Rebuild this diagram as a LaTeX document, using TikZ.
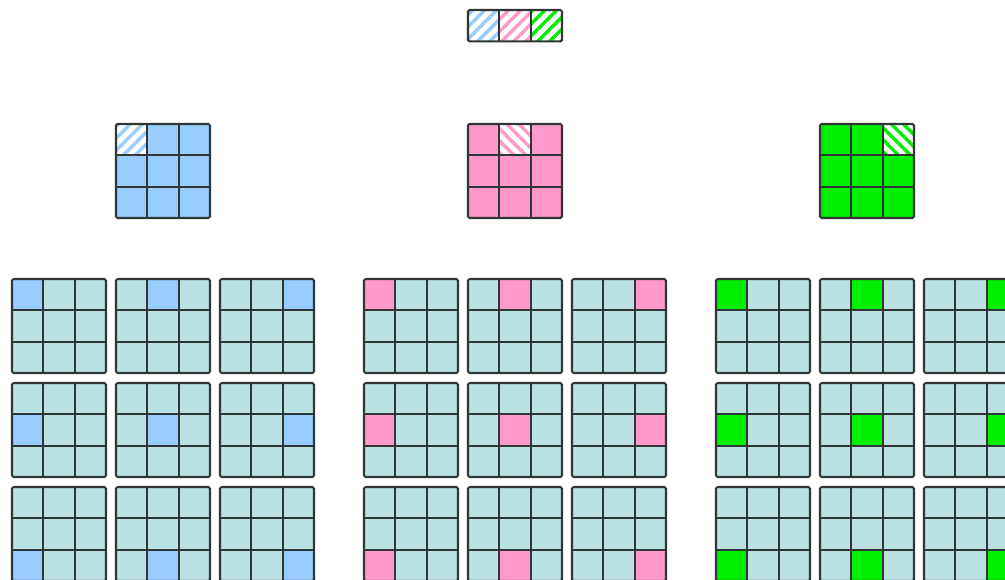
\documentclass[tikz,border=0pt]{standalone}
\usetikzlibrary{patterns.meta}
\definecolor{cblue}{HTML}{99CCFF}
\definecolor{cpink}{HTML}{FF99CC}
\definecolor{cgreen}{HTML}{00EE00}
\definecolor{cbg}{HTML}{BBE1E3}
\definecolor{cline}{HTML}{303535}
\tikzset{gl/.style={draw=cline,line width=2.1pt}}
\newcommand\cellgrid[4]{%
  \begin{scope}[shift={(#1,#2)}]
    \fill[#3] (0,0) rectangle (94,94);
    #4
    \foreach \k in {31.333,62.667}{\draw[gl] (\k,0) -- (\k,94); \draw[gl] (0,\k) -- (94,\k);}
    \draw[gl,rounded corners=1.5pt] (0,0) rectangle (94,94);
  \end{scope}}
\newcommand\spc[3]{\fill[#3] (#1*31.333,#2*31.333) rectangle ++(31.333,31.333);}
\newcommand\hatch[4]{%
  \fill[white] (#1*31.333,#2*31.333) rectangle ++(31.333,31.333);
  \fill[pattern={Lines[angle=#4,distance=8.5pt,line width=3.4pt]},pattern color=#3]
    (#1*31.333,#2*31.333) rectangle ++(31.333,31.333);}
\begin{document}
\begin{tikzpicture}[x=1pt,y=-1pt]
\useasboundingbox (0,0) rectangle (1005,579);
\clip (0,0) rectangle (1005,579);
% top strip
\begin{scope}[shift={(468,10)}]
  \hatch{0}{0}{cblue}{45}
  \hatch{1}{0}{cpink}{45}
  \hatch{2}{0}{cgreen}{45}
  \draw[gl] (31.333,0) -- (31.333,31.333);
  \draw[gl] (62.667,0) -- (62.667,31.333);
  \draw[gl,rounded corners=1.5pt] (0,0) rectangle (94,31.333);
\end{scope}
% middle grids
\cellgrid{116}{124}{cblue}{\hatch{0}{0}{cblue}{45}}
\cellgrid{468}{124}{cpink}{\hatch{1}{0}{cpink}{-45}}
\cellgrid{820}{124}{cgreen}{\hatch{2}{0}{cgreen}{-45}}
% bottom grids
\foreach \gx/\col in {12/cblue,364/cpink,716/cgreen}{
  \foreach \k in {0,1,2}{
    \foreach \r in {0,1,2}{
      \cellgrid{\gx+104*\k}{279+104*\r}{cbg}{\spc{\k}{\r}{\col}}
    }
  }
}
\end{tikzpicture}
\end{document}
